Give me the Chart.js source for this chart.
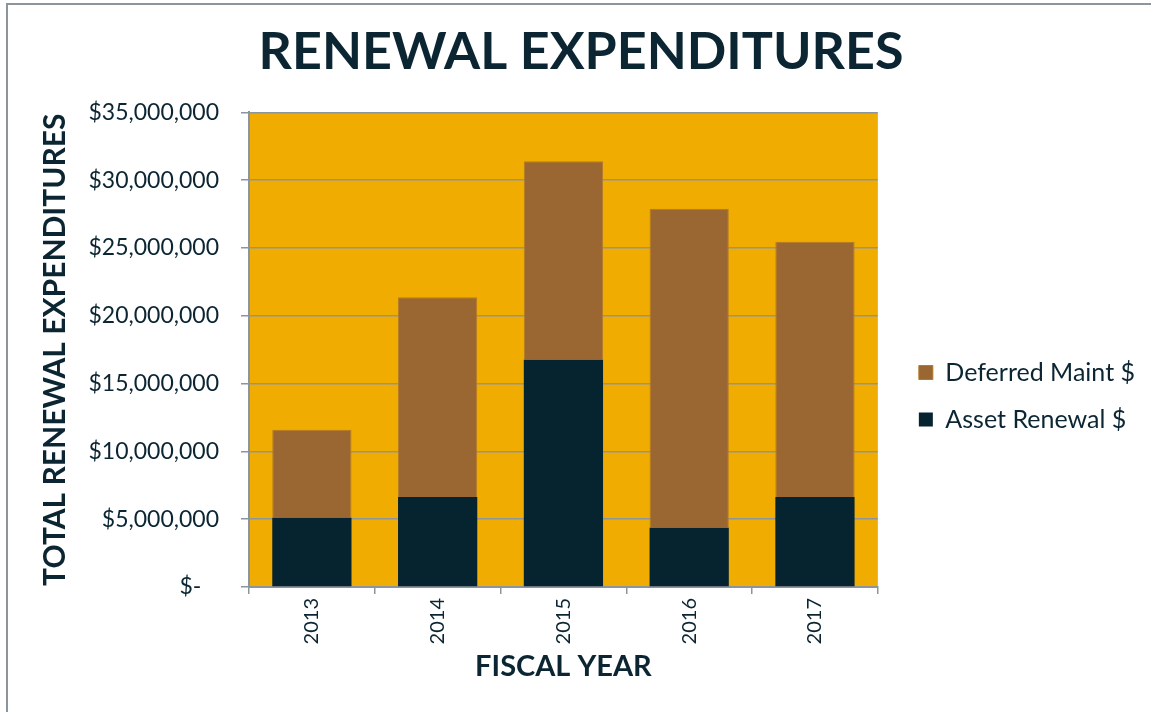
<!DOCTYPE html>
<html>
<head>
<meta charset="utf-8">
<script src="https://cdn.jsdelivr.net/npm/chart.js@4.4.1/dist/chart.umd.min.js"></script>
<style>
  html, body { margin: 0; padding: 0; background: #fff; overflow: hidden; }
  #wrap { position: relative; width: 1151px; height: 712px; }
  #frame { position: absolute; left: 6px; top: 3px; width: 1160px; height: 720px;
           border-left: 2px solid #8c959c; border-top: 2px solid #8c959c; }
  #chart { position: absolute; left: 0; top: 0; }
</style>
</head>
<body>
<div id="wrap">
  <div id="frame"></div>
  <canvas id="chart" width="1151" height="712"></canvas>
</div>
<script>
// data
const years = ['2013', '2014', '2015', '2016', '2017'];
const assetRenewal = [5100000, 6640000, 16750000, 4370000, 6640000];
const deferredMaint = [6500000, 14720000, 14650000, 23530000, 18820000];
const yTicks = [0, 5000000, 10000000, 15000000, 20000000, 25000000, 30000000, 35000000];

const FONT = "Lato, 'Open Sans', sans-serif";
const INK = '#0b2532';
const AXIS = '#8c959c';

// gold fill behind the plot area
const plotBg = {
  id: 'plotBg',
  beforeDraw(chart) {
    const a = chart.chartArea;
    const ctx = chart.ctx;
    ctx.save();
    ctx.fillStyle = '#f0ac00';
    ctx.fillRect(a.left, a.top, a.right - a.left, a.bottom - a.top);
    ctx.restore();
  }
};

// small shifts the layout engine can't do: legend further from the plot, title a bit right
const nudge = {
  id: 'nudge',
  afterLayout(chart) {
    chart.legend.left += 19;
    chart.legend.right += 19;
    chart.titleBlock.left += 13;
    chart.titleBlock.right += 13;
  }
};

new Chart(document.getElementById('chart'), {
  type: 'bar',
  data: {
    labels: years,
    datasets: [{
      label: 'Asset Renewal $',
      data: assetRenewal,
      backgroundColor: '#062330',
      borderWidth: 0,
      categoryPercentage: 1,
      barPercentage: 0.63
    }, {
      label: 'Deferred Maint $',
      data: deferredMaint,
      backgroundColor: '#9a6632',
      borderColor: '#b27a2c',
      borderWidth: 1,
      categoryPercentage: 1,
      barPercentage: 0.63
    }]
  },
  options: {
    responsive: false,
    animation: false,
    layout: { padding: { left: 10, right: 25, top: 0, bottom: 0 } },
    plugins: {
      title: {
        display: true,
        text: 'RENEWAL EXPENDITURES',
        color: INK,
        font: { family: FONT, size: 52, weight: 'bold' },
        padding: { top: 21, bottom: 29 }
      },
      legend: {
        position: 'right',
        reverse: true,
        // blank title only pushes the two items down
        title: { display: true, text: ' ', font: { size: 10 }, padding: { top: 0, bottom: 68 } },
        labels: {
          boxWidth: 14,
          boxHeight: 14,
          color: INK,
          padding: 22,
          font: { family: FONT, size: 25 }
        }
      },
      tooltip: { enabled: false }
    },
    scales: {
      x: {
        stacked: true,
        ticks: {
          minRotation: 90, maxRotation: 90,
          color: INK, padding: 4,
          font: { family: FONT, size: 20 }
        },
        grid: {
          drawOnChartArea: false, drawTicks: true, offset: true,
          tickLength: 7, color: AXIS, lineWidth: 1.5
        },
        border: { color: AXIS, width: 2 },
        title: {
          display: true, text: 'FISCAL YEAR', color: INK,
          font: { family: FONT, size: 29, weight: 'bold' },
          padding: { top: 0, bottom: 28 }
        },
        afterFit(scale) { scale.height = 125; }
      },
      y: {
        stacked: true,
        min: 0,
        max: 35000000,
        afterBuildTicks(scale) { scale.ticks = yTicks.map(v => ({ value: v })); },
        ticks: {
          color: INK, padding: 22,
          font: { family: FONT, size: 23 },
          callback: v => v === 0 ? '$-   ' : '$' + v.toLocaleString('en-US')
        },
        grid: { color: AXIS, lineWidth: 1.5, tickLength: 8 },
        border: { color: AXIS, width: 2 },
        title: {
          display: true, text: 'TOTAL RENEWAL EXPENDITURES', color: INK,
          font: { family: FONT, size: 30, weight: 'bold' },
          padding: { top: 27, bottom: 0 }
        },
        afterFit(scale) { scale.width = 239; }
      }
    }
  },
  plugins: [plotBg, nudge]
});
</script>
</body>
</html>
